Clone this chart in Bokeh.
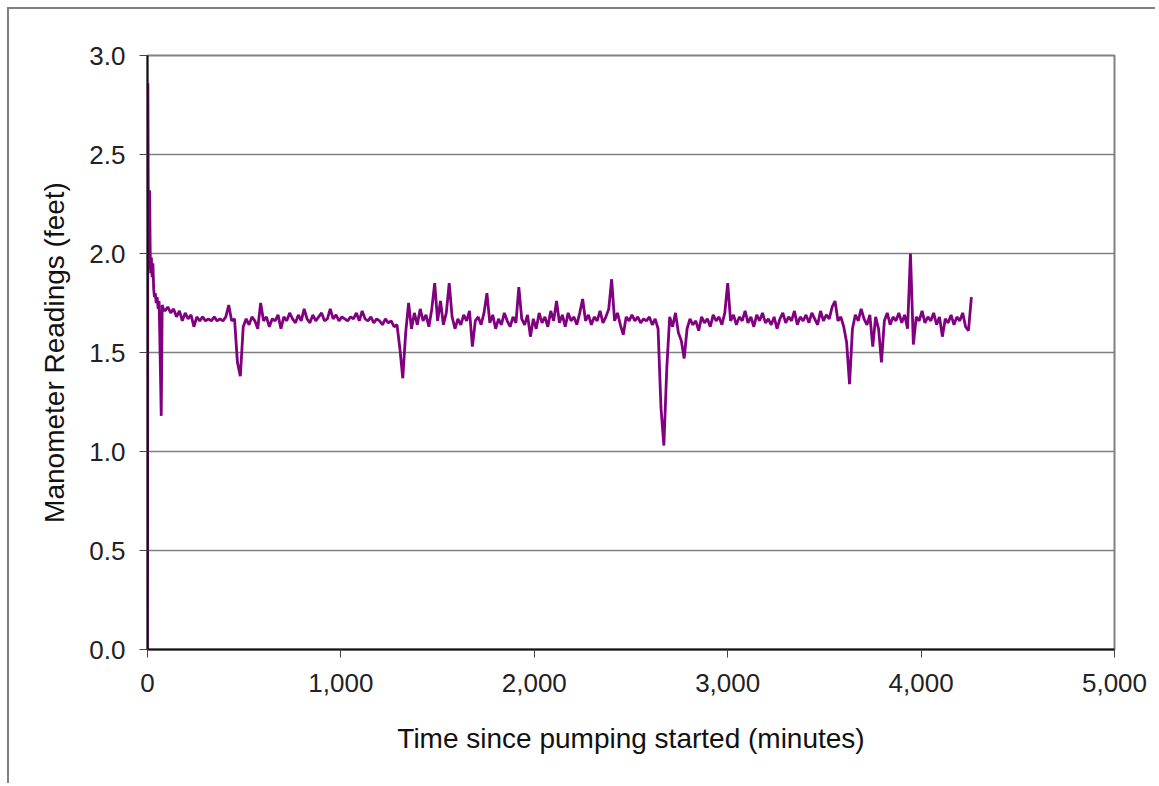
from bokeh.plotting import figure
from bokeh.models import Range1d, FixedTicker, NumeralTickFormatter
from bokeh.embed import file_html
from bokeh.resources import INLINE

# Early transient readings (minutes, feet)
early_minutes = [0, 2, 5, 8, 11, 14, 17, 20, 24, 28, 32, 36, 40, 45, 50, 55, 60, 66, 71, 76, 82, 90]
early_feet = [0.0, 2.86, 2.05, 1.92, 2.32, 2.0, 1.90, 1.98, 1.88, 1.95, 1.82, 1.78, 1.80, 1.75,
              1.78, 1.72, 1.76, 1.45, 1.18, 1.74, 1.72, 1.71]

# Main record: one reading every 15 minutes starting at 105 minutes
main_start = 105
main_step = 15
main_feet = [
    1.73, 1.70, 1.72, 1.68, 1.71, 1.66, 1.70, 1.67, 1.69, 1.63, 1.68, 1.66, 1.68, 1.66, 1.67, 1.66, 1.68, 1.66, 1.67, 1.66,
    1.68, 1.74, 1.66, 1.67, 1.45, 1.38, 1.63, 1.67, 1.64, 1.68, 1.66, 1.62, 1.75, 1.66, 1.68, 1.63, 1.67, 1.66, 1.69, 1.62,
    1.68, 1.66, 1.70, 1.67, 1.65, 1.69, 1.66, 1.72, 1.67, 1.65, 1.69, 1.66, 1.68, 1.70, 1.66, 1.67, 1.72, 1.67, 1.69, 1.66,
    1.68, 1.67, 1.66, 1.68, 1.67, 1.70, 1.66, 1.71, 1.67, 1.66, 1.68, 1.65, 1.67, 1.66, 1.64, 1.67, 1.65, 1.66, 1.63, 1.64,
    1.52, 1.37, 1.60, 1.75, 1.62, 1.70, 1.64, 1.72, 1.66, 1.69, 1.63, 1.72, 1.85, 1.66, 1.76, 1.64, 1.70, 1.85, 1.68, 1.62,
    1.67, 1.64, 1.69, 1.66, 1.71, 1.53, 1.66, 1.68, 1.64, 1.70, 1.80, 1.65, 1.69, 1.62, 1.67, 1.64, 1.70, 1.66, 1.63, 1.68,
    1.65, 1.83, 1.67, 1.64, 1.69, 1.58, 1.67, 1.62, 1.70, 1.65, 1.68, 1.63, 1.71, 1.66, 1.76, 1.65, 1.69, 1.63, 1.70, 1.66,
    1.68, 1.64, 1.70, 1.77, 1.66, 1.69, 1.64, 1.68, 1.66, 1.71, 1.65, 1.68, 1.72, 1.87, 1.66, 1.70, 1.64, 1.59, 1.68, 1.66,
    1.69, 1.66, 1.68, 1.65, 1.67, 1.66, 1.68, 1.64, 1.67, 1.62, 1.22, 1.03, 1.42, 1.68, 1.63, 1.70, 1.60, 1.56, 1.47, 1.62,
    1.67, 1.64, 1.66, 1.61, 1.68, 1.65, 1.67, 1.63, 1.69, 1.66, 1.68, 1.64, 1.70, 1.85, 1.66, 1.69, 1.64, 1.68, 1.66, 1.71,
    1.65, 1.68, 1.63, 1.69, 1.66, 1.70, 1.65, 1.67, 1.64, 1.68, 1.62, 1.67, 1.70, 1.65, 1.68, 1.66, 1.71, 1.64, 1.68, 1.66,
    1.69, 1.65, 1.70, 1.67, 1.64, 1.71, 1.66, 1.69, 1.67, 1.73, 1.76, 1.66, 1.68, 1.63, 1.55, 1.34, 1.62, 1.69, 1.66, 1.72,
    1.67, 1.64, 1.69, 1.53, 1.68, 1.62, 1.45, 1.66, 1.70, 1.64, 1.68, 1.66, 1.70, 1.65, 1.69, 1.62, 2.00, 1.54, 1.68, 1.66,
    1.71, 1.65, 1.68, 1.66, 1.70, 1.64, 1.68, 1.58, 1.67, 1.65, 1.69, 1.64, 1.68, 1.66, 1.70, 1.63, 1.61, 1.78,
]

y_ticks = [0.0, 0.5, 1.0, 1.5, 2.0, 2.5, 3.0]
x_ticks = [0, 1000, 2000, 3000, 4000, 5000]

main_minutes = [main_start + main_step * i for i in range(len(main_feet))]
minutes = early_minutes + main_minutes
feet = early_feet + main_feet

FONT = "Liberation Sans"

p = figure(width=1148, height=776, output_backend="svg", toolbar_location=None,
           x_range=Range1d(0, 5000), y_range=Range1d(0, 3.0),
           min_border_left=138, min_border_right=43, min_border_top=46, min_border_bottom=136)
p.styles = {"border-left": "2px solid #808080", "border-top": "2px solid #808080",
            "margin-left": "7px", "margin-top": "7px"}

p.line(minutes, feet, line_color="#800080", line_width=2.8)

# frame
p.outline_line_color = "#808080"
p.outline_line_width = 2
p.background_fill_color = "white"
p.border_fill_color = "white"

# grid
p.xgrid.grid_line_color = None
p.ygrid.grid_line_color = "#808080"
p.ygrid.grid_line_width = 1.5

# axes
p.xaxis.ticker = FixedTicker(ticks=x_ticks)
p.yaxis.ticker = FixedTicker(ticks=y_ticks)
p.xaxis.formatter = NumeralTickFormatter(format="0,0")
p.yaxis.formatter = NumeralTickFormatter(format="0.0")

for ax in (p.xaxis[0], p.yaxis[0]):
    ax.axis_line_color = "#111111"
    ax.axis_line_width = 2
    ax.major_tick_line_color = "#444444"
    ax.major_tick_in = 0
    ax.major_tick_out = 8
    ax.minor_tick_line_color = None
    ax.major_label_text_font = FONT
    ax.major_label_text_font_size = "26px"
    ax.major_label_text_color = "#222222"
    ax.axis_label_text_font = FONT
    ax.axis_label_text_font_size = "28px"
    ax.axis_label_text_font_style = "normal"
    ax.axis_label_text_color = "#111111"

p.xaxis.major_label_standoff = 16
p.yaxis.major_label_standoff = 14
p.xaxis.axis_label = "Time since pumping started (minutes)"
p.yaxis.axis_label = "Manometer Readings (feet)"
p.xaxis.axis_label_standoff = 28
p.yaxis.axis_label_standoff = 16

open("out.html", "w").write(file_html(p, INLINE))
